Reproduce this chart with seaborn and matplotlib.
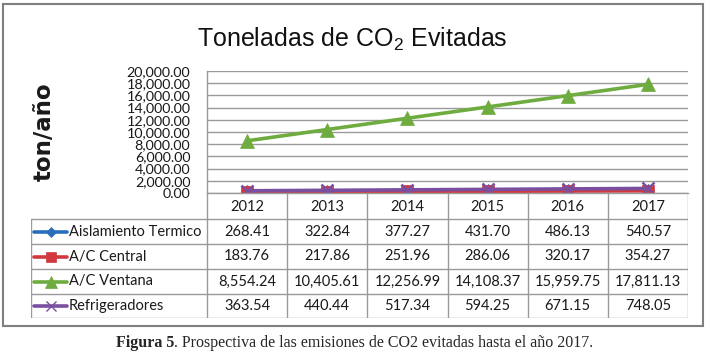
import matplotlib
matplotlib.use('Agg')
import matplotlib.pyplot as plt
from matplotlib.patches import Rectangle
import pandas as pd
import seaborn as sns

anios = ['2012', '2013', '2014', '2015', '2016', '2017']
series = ['Aislamiento Termico', 'A/C Central', 'A/C Ventana', 'Refrigeradores']
aislamiento = [268.41, 322.84, 377.27, 431.70, 486.13, 540.57]
ac_central = [183.76, 217.86, 251.96, 286.06, 320.17, 354.27]
ac_ventana = [8554.24, 10405.61, 12256.99, 14108.37, 15959.75, 17811.13]
refrigeradores = [363.54, 440.44, 517.34, 594.25, 671.15, 748.05]
valores = [aislamiento, ac_central, ac_ventana, refrigeradores]

colores = ['#2A6EBB', '#D0393E', '#6FAC3F', '#7B4FA0']
marcadores = ['D', 's', '^', 'x']
tamanos = [6, 9, 10, 9]

sns.set_style('white')
plt.rcParams['font.family'] = ['Lato', 'DejaVu Sans']
plt.rcParams['mathtext.fontset'] = 'custom'
plt.rcParams['mathtext.rm'] = 'Liberation Sans'

W, H = 710, 355
fig = plt.figure(figsize=(7.1, 3.55), dpi=100)

def fx(px):
    return px / W

def fy(py):
    return 1 - py / H

# area del grafico
x0, x1, ytop, ybot = 207, 688, 71, 193
ax = fig.add_axes([fx(x0), fy(ybot), fx(x1 - x0), (ybot - ytop) / H])

df = pd.DataFrame({
    'serie': [s for s in series for _ in anios],
    'pos': list(range(len(anios))) * len(series),
    'valor': [v for vals in valores for v in vals],
})

for s, c, m, ms in zip(series, colores, marcadores, tamanos):
    sns.lineplot(data=df[df['serie'] == s], x='pos', y='valor', color=c,
                 marker=m, markersize=ms, markeredgecolor=c,
                 markeredgewidth=1.8 if m == 'x' else 0.5,
                 linewidth=2.6, ax=ax, legend=False)

ax.set_xlim(-0.5, len(anios) - 0.5)
ax.set_ylim(0, 20000)
ticks = list(range(0, 20001, 2000))
ax.set_yticks(ticks)
ax.set_yticklabels([f'{t:,.2f}' for t in ticks], fontsize=10.3, color='#1a1a1a')
ax.set_xticks([])
ax.set_xlabel('')
ax.set_ylabel('')
ax.tick_params(axis='y', length=0, pad=12)
ax.yaxis.grid(True, color='#9A9A9A', linewidth=1)
ax.set_axisbelow(True)
for lado in ['top', 'right']:
    ax.spines[lado].set_visible(False)
for lado in ['left', 'bottom']:
    ax.spines[lado].set_color('#9A9A9A')
    ax.spines[lado].set_linewidth(1)

# tabla de datos
tx0, ty1 = 31, 318
axt = fig.add_axes([fx(tx0), fy(ty1), fx(x1 - tx0), (ty1 - ybot) / H])
axt.set_xlim(tx0, x1)
axt.set_ylim(ty1, ybot)
axt.axis('off')
colw = (x1 - x0) / len(anios)
filas = [193, 219, 244, 269, 294, 318]
gris = '#9A9A9A'
for i in range(len(anios) + 1):
    xv = x0 + i * colw
    axt.plot([xv, xv], [filas[0], filas[-1]], color=gris, lw=1)
axt.plot([tx0, tx0], [filas[1], filas[-1]], color=gris, lw=1)
for yv in filas[1:]:
    axt.plot([tx0, x1], [yv, yv], color=gris, lw=1)
for i, a in enumerate(anios):
    axt.text(x0 + (i + 0.5) * colw, (filas[0] + filas[1]) / 2 + 1, a,
             ha='center', va='center', fontsize=10.5, color='#1a1a1a')
for r, (s, vals, c, m, ms) in enumerate(zip(series, valores, colores, marcadores, tamanos)):
    yc = (filas[r + 1] + filas[r + 2]) / 2
    axt.plot([34, 67], [yc, yc], color=c, lw=2.6)
    axt.plot([50.5], [yc], color=c, marker=m, markersize=ms * 0.85,
             markeredgecolor=c, markeredgewidth=1.0 if m == 'x' else 0.5)
    axt.text(69, yc, s, ha='left', va='center', fontsize=10.5, color='#1a1a1a')
    for i, v in enumerate(vals):
        axt.text(x0 + (i + 0.5) * colw, yc, f'{v:,.2f}', ha='center',
                 va='center', fontsize=10.5, color='#1a1a1a')

# titulo y etiqueta del eje
fig.text(fx(352), fy(47), 'Toneladas de CO$_2$ Evitadas', ha='center', va='baseline',
         fontsize=18, family=['Liberation Sans', 'DejaVu Sans'], color='#111111')
fig.text(fx(44), fy(132), 'ton/año', rotation=90, ha='center', va='center',
         fontsize=16.5, fontweight='bold', family=['DejaVu Sans'], color='#1a1a1a')

# marco exterior
fig.patches.append(Rectangle((fx(3), fy(326)), fx(700), (326 - 4) / H,
                             transform=fig.transFigure, fill=False,
                             edgecolor='#7F7F7F', lw=1.5))

# pie de figura
t1 = fig.text(fx(116), fy(347), 'Figura 5', ha='left', va='baseline',
              fontsize=11.5, fontweight='bold', family=['Liberation Serif'])
plt.annotate('. Prospectiva de las emisiones de CO2 evitadas hasta el año 2017.',
             xy=(1, 0), xycoords=t1, ha='left', va='bottom',
             fontsize=11.5, family=['Liberation Serif'])

plt.savefig('out.png', dpi=100)
